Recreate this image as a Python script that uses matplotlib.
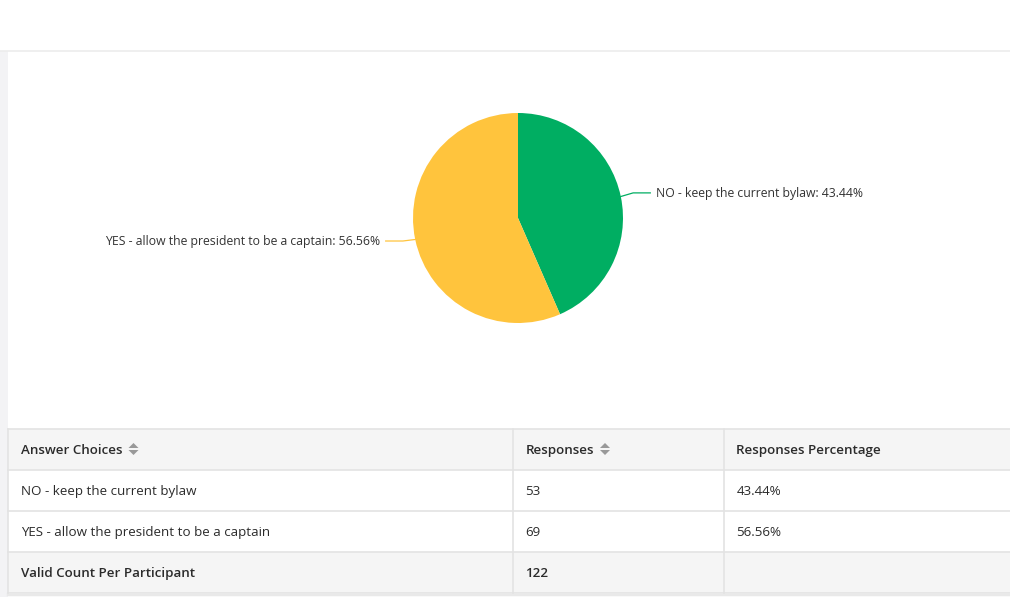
import matplotlib.pyplot as plt
from matplotlib.patches import Rectangle, Polygon
import numpy as np

plt.rcParams['font.family'] = ['Open Sans', 'DejaVu Sans']

# data
choices = ['NO - keep the current bylaw', 'YES - allow the president to be a captain']
responses = [53, 69]
percents = ['43.44%', '56.56%']
total_label = 'Valid Count Per Participant'
total = 122
headers = ['Answer Choices', 'Responses', 'Responses Percentage']
colors = ['#00ae62', '#ffc43d']

W, H = 1010, 597
fig = plt.figure(figsize=(W / 100, H / 100), dpi=100)
fig.patch.set_facecolor('white')

# background axes in pixel coordinates
bg = fig.add_axes([0, 0, 1, 1])
bg.set_xlim(0, W)
bg.set_ylim(H, 0)
bg.axis('off')

bg.plot([0, W], [50.5, 50.5], color='#ececec', lw=1.2)
bg.add_patch(Rectangle((0, 51), 8, H - 51, color='#f3f3f5', lw=0))

# pie
cx, cy, r = 518, 218, 105
pax = fig.add_axes([(cx - r) / W, (H - cy - r) / H, 2 * r / W, 2 * r / H])
wedges, _ = pax.pie(responses, colors=colors, startangle=90, counterclock=False,
                    radius=1, wedgeprops=dict(linewidth=0))
pax.set_xlim(-1, 1)
pax.set_ylim(-1, 1)
pax.axis('off')

for w, lab, pct, col in zip(wedges, choices, percents, colors):
    mid = np.deg2rad((w.theta1 + w.theta2) / 2)
    x0, y0 = np.cos(mid), np.sin(mid)
    x1, y1 = 1.12 * x0, 1.12 * y0 + 0.01
    side = 1 if x0 > 0 else -1
    x2 = 1.26 * side
    pax.plot([x0, x1, x2], [y0, y1, y1], color=col, lw=0.9, clip_on=False)
    pax.text(x2 + 0.055 * side, y1 - 0.008, '%s: %s' % (lab, pct), fontsize=8.85,
             color='#333333', va='center', ha='left' if side > 0 else 'right')

# table
col_x = [8, 512.5, 723.5, W]
row_y = [428.5, 469.5, 510.5, 551.5, 592.5]
row_bg = ['#f5f5f5', 'white', 'white', '#f5f5f5']
line_c = '#e3e3e3'
for i in range(4):
    bg.add_patch(Rectangle((col_x[0], row_y[i]), W - col_x[0], row_y[i + 1] - row_y[i],
                           color=row_bg[i], lw=0))
for y in row_y:
    bg.plot([col_x[0], W], [y, y], color=line_c, lw=1.2)
bg.plot([col_x[0], W], [594, 594], color='#e9e9e9', lw=2.5)
for x in col_x[:3]:
    bg.plot([x, x], [row_y[0], row_y[-1]], color=line_c, lw=1.2)

rows = [headers,
        [choices[0], str(responses[0]), percents[0]],
        [choices[1], str(responses[1]), percents[1]],
        [total_label, str(total), '']]
renderer = fig.canvas.get_renderer()
for i, row in enumerate(rows):
    yc = (row_y[i] + row_y[i + 1]) / 2 + 1.5
    bold = i in (0, 3)
    for j, txt in enumerate(row):
        t = bg.text(col_x[j] + 13, yc, txt, fontsize=9.6, color='#2b2b2b',
                    fontweight='semibold' if bold else 'normal', va='center', ha='left')
        if i == 0 and j < 2:
            # sort arrows after header text
            bb = t.get_window_extent(renderer)
            xe = bb.x1 + 11
            ya = yc - 1.5
            bg.add_patch(Polygon([[xe - 5, ya - 1], [xe + 5, ya - 1], [xe, ya - 6]],
                                 color='#999999', lw=0))
            bg.add_patch(Polygon([[xe - 5, ya + 1], [xe + 5, ya + 1], [xe, ya + 6]],
                                 color='#999999', lw=0))

fig.savefig('out.png', dpi=100, facecolor='white')
